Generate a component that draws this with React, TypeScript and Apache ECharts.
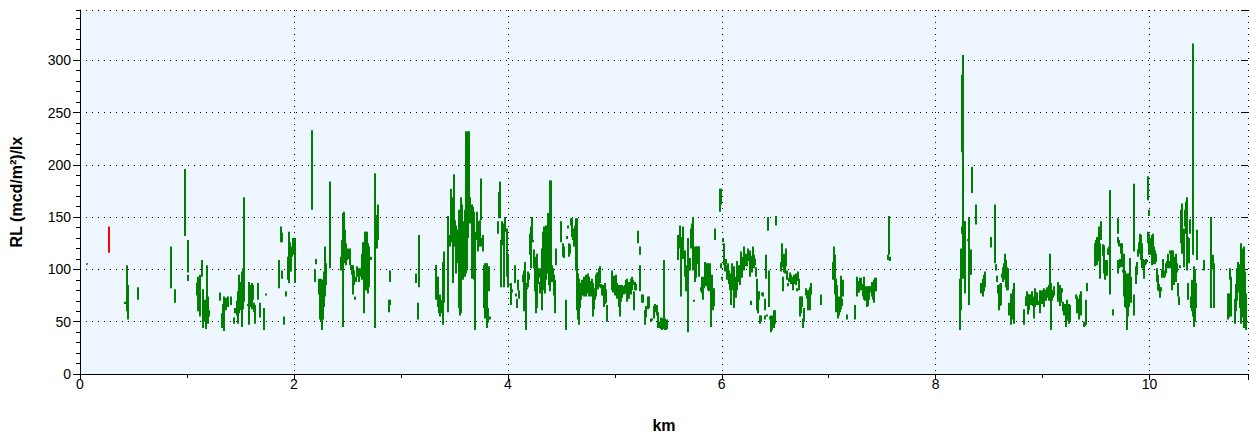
import React, { useEffect, useRef } from "react";
import * as echarts from "echarts";

// ---- axis settings / tick labels ----
const X_MAX = 10.92;
const Y_MAX = 348;
const xTickStep = 2;
const yTickStep = 50;

// ---- red marker segment [km, low, high] ----
const redSegments: number[][] = [[0.27, 116, 141]];

// ---- green segments [km, low, high], grouped by stretch ----
const stretchA: number[][] = [
  [0.07, 105, 106], [0.42, 67, 69], [0.44, 60, 104], [0.45, 52, 85], [0.545, 71, 83],
  [0.848, 82, 122], [0.885, 68, 81], [0.978, 132, 196], [1.006, 97, 128], [1.008, 89, 95],
];
const stretchB: number[][] = [
  [1.09, 75, 87], [1.105, 60, 93], [1.12, 79, 95], [1.125, 55, 79], [1.137, 93, 109],
  [1.15, 44, 81], [1.165, 50, 71], [1.175, 43, 71], [1.184, 56, 104], [1.194, 48, 74],
  [1.203, 55, 61], [1.305, 70, 78], [1.324, 44, 58], [1.336, 45, 67], [1.345, 41, 74],
  [1.364, 61, 73], [1.38, 64, 74], [1.408, 66, 74], [1.436, 48, 54], [1.445, 58, 63],
  [1.455, 58, 63], [1.464, 56, 70], [1.473, 48, 79], [1.483, 58, 95], [1.492, 61, 88],
  [1.51, 45, 98], [1.52, 62, 101], [1.537, 69, 169], [1.567, 65, 67], [1.576, 47, 88],
  [1.585, 64, 85], [1.595, 66, 84], [1.604, 62, 87], [1.613, 71, 85], [1.63, 59, 68],
  [1.64, 48, 66], [1.66, 71, 87], [1.68, 54, 68], [1.72, 42, 63], [1.735, 75, 77],
];
const stretchC: number[][] = [
  [1.857, 82, 109], [1.883, 126, 141], [1.89, 126, 135], [1.885, 91, 99], [1.907, 47, 55],
  [1.93, 74, 79], [1.94, 90, 112], [1.95, 87, 136], [1.96, 98, 126], [1.97, 98, 120],
  [1.978, 112, 122], [1.988, 115, 130], [1.997, 114, 128], [2.006, 87, 130], [2.168, 157, 233],
  [2.2, 88, 100], [2.21, 105, 110], [2.23, 76, 91], [2.24, 52, 90], [2.25, 50, 91],
  [2.26, 42, 90], [2.268, 52, 83], [2.277, 64, 98], [2.287, 74, 122], [2.296, 85, 106],
  [2.333, 101, 184], [2.436, 99, 112], [2.445, 101, 128], [2.455, 45, 154], [2.464, 112, 155],
  [2.473, 106, 138], [2.483, 104, 125], [2.492, 109, 117], [2.5, 110, 117], [2.51, 110, 120],
  [2.52, 104, 120], [2.53, 100, 104], [2.54, 95, 104], [2.548, 93, 104], [2.557, 76, 96],
  [2.566, 85, 99], [2.575, 71, 74], [2.585, 88, 93], [2.594, 93, 103], [2.604, 88, 101],
  [2.614, 93, 101], [2.623, 95, 100], [2.632, 90, 115], [2.642, 112, 126], [2.651, 58, 117],
  [2.66, 83, 136], [2.67, 80, 136], [2.68, 80, 136], [2.69, 77, 125], [2.7, 83, 122],
  [2.716, 109, 112],
];
const stretchD: number[][] = [
  [2.754, 44, 192], [2.78, 120, 152], [2.79, 128, 162], [2.894, 88, 99], [2.89, 59, 71],
  [2.9, 66, 71], [3.137, 87, 96], [3.156, 52, 68], [3.166, 83, 133], [3.324, 80, 104],
  [3.333, 71, 104], [3.343, 64, 93], [3.352, 63, 74], [3.36, 58, 66], [3.37, 55, 76],
  [3.38, 58, 71], [3.39, 47, 107], [3.399, 68, 117], [3.436, 59, 151], [3.445, 125, 138],
  [3.455, 122, 133], [3.464, 126, 177], [3.473, 136, 176], [3.483, 87, 169], [3.492, 144, 191],
  [3.5, 128, 162], [3.51, 122, 147], [3.52, 96, 142], [3.53, 106, 138], [3.54, 103, 155],
  [3.548, 63, 157], [3.557, 56, 136], [3.566, 58, 169], [3.576, 109, 162], [3.585, 90, 146],
  [3.595, 93, 157], [3.605, 96, 232], [3.614, 99, 171], [3.623, 140, 157], [3.628, 130, 232],
  [3.636, 149, 232], [3.645, 144, 169], [3.654, 150, 155], [3.664, 91, 162], [3.673, 95, 160],
  [3.682, 90, 155], [3.69, 42, 136], [3.7, 130, 133], [3.71, 128, 155], [3.72, 117, 146],
  [3.729, 128, 145], [3.738, 122, 147], [3.748, 147, 187], [3.757, 122, 130], [3.766, 117, 133],
  [3.776, 63, 104], [3.785, 53, 106], [3.794, 63, 106], [3.804, 44, 106], [3.813, 49, 63],
  [3.822, 79, 103], [3.832, 52, 55],
];
const stretchE: number[][] = [
  [3.906, 134, 146], [3.915, 149, 174], [3.925, 150, 184], [3.94, 83, 128], [3.95, 123, 146],
  [3.96, 83, 144], [3.97, 142, 147], [3.978, 136, 150], [3.988, 93, 139], [3.997, 83, 115],
  [4.006, 83, 86], [4.02, 85, 86], [4.03, 66, 87], [4.04, 78, 81], [4.068, 87, 104],
  [4.077, 74, 77], [4.087, 63, 72], [4.096, 80, 90], [4.106, 72, 80], [4.143, 88, 95],
  [4.152, 60, 99], [4.162, 80, 107], [4.171, 42, 87], [4.18, 81, 83], [4.19, 83, 98],
  [4.2, 90, 96], [4.208, 114, 134], [4.218, 101, 141], [4.227, 126, 150], [4.236, 126, 128],
  [4.246, 101, 119], [4.255, 79, 112], [4.264, 58, 107], [4.274, 63, 115], [4.283, 86, 101],
  [4.292, 92, 101], [4.302, 77, 88], [4.311, 88, 101], [4.32, 61, 120], [4.33, 80, 136],
  [4.34, 101, 141], [4.348, 77, 134], [4.358, 90, 142], [4.367, 118, 133], [4.376, 96, 154],
  [4.386, 85, 101], [4.395, 79, 185], [4.404, 88, 185], [4.414, 88, 104], [4.423, 88, 101],
  [4.432, 75, 95], [4.442, 58, 90], [4.451, 104, 120], [4.5, 126, 146], [4.518, 112, 125],
  [4.528, 111, 122], [4.54, 42, 71],
];
const stretchF: number[][] = [
  [4.551, 129, 132], [4.56, 139, 142], [4.57, 112, 125], [4.58, 115, 124], [4.589, 142, 149],
  [4.598, 131, 149], [4.61, 128, 131], [4.62, 122, 139], [4.629, 122, 142], [4.638, 99, 149],
  [4.648, 61, 149], [4.657, 52, 96], [4.666, 47, 91], [4.676, 63, 77], [4.685, 71, 87],
  [4.694, 75, 90], [4.704, 78, 88], [4.713, 74, 93], [4.722, 83, 89], [4.732, 74, 95],
  [4.741, 77, 93], [4.75, 86, 96], [4.76, 74, 93], [4.769, 82, 89], [4.778, 74, 87],
  [4.788, 75, 91], [4.797, 55, 87], [4.806, 62, 82], [4.816, 71, 77], [4.825, 74, 95],
  [4.835, 81, 97], [4.844, 81, 97], [4.853, 83, 101], [4.863, 87, 103], [4.872, 82, 86],
  [4.882, 75, 85], [4.89, 75, 85], [4.9, 64, 85], [4.91, 67, 87], [4.919, 68, 81],
  [4.928, 50, 66], [4.975, 80, 99], [4.985, 78, 93], [4.994, 82, 94], [5.003, 75, 92],
  [5.012, 82, 95], [5.022, 72, 87], [5.03, 82, 85], [5.04, 64, 83], [5.05, 55, 85],
  [5.06, 69, 85], [5.07, 73, 85], [5.087, 76, 84], [5.096, 77, 85], [5.106, 80, 90],
  [5.115, 69, 91], [5.124, 74, 88], [5.134, 72, 88], [5.143, 78, 85], [5.152, 76, 91],
  [5.162, 80, 93], [5.17, 85, 90], [5.18, 61, 79], [5.19, 80, 88], [5.199, 80, 86],
  [5.22, 125, 137], [5.24, 114, 122], [5.24, 79, 104], [5.25, 68, 76], [5.26, 68, 76],
  [5.268, 69, 74], [5.278, 47, 61], [5.287, 49, 61], [5.296, 54, 65], [5.306, 62, 68],
  [5.315, 63, 74], [5.324, 63, 74], [5.343, 50, 53], [5.352, 51, 53], [5.362, 60, 63],
  [5.371, 53, 65], [5.38, 59, 67], [5.39, 56, 66], [5.4, 50, 59], [5.408, 44, 58],
  [5.418, 44, 50], [5.436, 43, 54],
];
const stretchG: number[][] = [
  [5.445, 42, 53], [5.455, 43, 53], [5.461, 48, 109], [5.47, 42, 53], [5.48, 42, 50],
  [5.49, 43, 52], [5.59, 109, 133], [5.6, 120, 129], [5.61, 123, 142], [5.62, 74, 131],
  [5.63, 110, 127], [5.638, 118, 141], [5.648, 110, 118], [5.657, 93, 118], [5.666, 79, 104],
  [5.676, 86, 95], [5.685, 40, 130], [5.694, 99, 111], [5.703, 99, 111], [5.713, 120, 139],
  [5.722, 123, 144], [5.732, 99, 150], [5.74, 104, 122], [5.742, 69, 71], [5.75, 88, 115],
  [5.76, 92, 122], [5.77, 106, 122], [5.78, 105, 122], [5.788, 93, 122], [5.807, 79, 83],
  [5.816, 77, 93], [5.826, 71, 88], [5.835, 82, 93], [5.844, 90, 107], [5.854, 84, 104],
  [5.863, 88, 106], [5.872, 80, 106], [5.882, 79, 104], [5.89, 80, 106], [5.9, 45, 95],
  [5.91, 64, 95], [5.919, 61, 82], [5.928, 65, 82], [5.938, 128, 139], [5.98, 155, 177],
  [5.99, 162, 177], [5.992, 101, 106], [6.006, 90, 93], [6.016, 126, 130], [6.025, 104, 125],
  [6.034, 98, 108], [6.044, 105, 110], [6.053, 90, 104], [6.06, 94, 106], [6.07, 86, 99],
  [6.08, 80, 96], [6.09, 66, 90], [6.1, 83, 106], [6.109, 80, 99], [6.118, 63, 103],
  [6.128, 83, 93], [6.137, 73, 92], [6.146, 80, 108], [6.156, 88, 100], [6.165, 91, 104],
  [6.175, 85, 104], [6.184, 96, 117], [6.193, 92, 112], [6.2, 100, 104], [6.21, 99, 122],
  [6.22, 108, 115], [6.23, 103, 115], [6.24, 103, 109], [6.25, 108, 120], [6.26, 93, 118],
  [6.27, 104, 113], [6.278, 66, 70], [6.286, 97, 110], [6.296, 105, 122], [6.305, 101, 114],
  [6.315, 104, 110], [6.324, 93, 102], [6.327, 61, 91], [6.336, 61, 69], [6.343, 58, 72],
  [6.352, 71, 79], [6.362, 48, 56], [6.371, 50, 56], [6.38, 75, 78], [6.39, 74, 78],
  [6.4, 52, 56], [6.408, 61, 72], [6.418, 91, 114], [6.419, 55, 57], [6.436, 137, 150],
  [6.446, 64, 99], [6.455, 52, 55], [6.464, 40, 56], [6.473, 42, 55], [6.483, 44, 56],
  [6.492, 44, 61], [6.5, 48, 61], [6.51, 142, 151],
];
const stretchH: number[][] = [
  [6.558, 98, 107], [6.567, 102, 125], [6.576, 79, 93], [6.586, 97, 115], [6.595, 96, 110],
  [6.604, 103, 120], [6.614, 90, 99], [6.623, 84, 87], [6.632, 88, 92], [6.642, 89, 97],
  [6.65, 86, 95], [6.66, 90, 93], [6.67, 80, 91], [6.68, 86, 95], [6.69, 86, 94],
  [6.698, 85, 96], [6.708, 79, 82], [6.717, 89, 98], [6.726, 80, 91], [6.736, 55, 74],
  [6.745, 58, 74], [6.754, 64, 74], [6.764, 44, 53], [6.773, 50, 63], [6.79, 75, 82],
  [6.8, 72, 75], [6.808, 61, 80], [6.818, 71, 80], [6.828, 61, 83], [6.837, 76, 87],
  [6.93, 66, 76], [7.043, 90, 107], [7.053, 91, 122], [7.062, 76, 114], [7.071, 59, 91],
  [7.08, 62, 85], [7.09, 53, 74], [7.1, 56, 72], [7.109, 59, 74], [7.118, 62, 94],
  [7.128, 65, 72], [7.137, 74, 90], [7.175, 52, 57], [7.25, 52, 66], [7.268, 74, 93],
  [7.277, 78, 89], [7.287, 78, 86], [7.296, 83, 92], [7.305, 80, 92], [7.315, 82, 86],
  [7.324, 74, 84], [7.334, 71, 93], [7.343, 70, 82], [7.352, 71, 84], [7.362, 64, 80],
  [7.371, 65, 84], [7.38, 71, 84], [7.39, 78, 84], [7.4, 74, 87], [7.408, 77, 88],
  [7.418, 71, 88], [7.427, 68, 90], [7.436, 79, 92], [7.446, 79, 92], [7.558, 109, 114],
  [7.567, 114, 151], [7.577, 108, 112],
];
const stretchI: number[][] = [
  [8.224, 42, 91], [8.233, 61, 120], [8.243, 134, 141], [8.25, 212, 286], [8.258, 91, 305],
  [8.268, 106, 146], [8.277, 77, 146], [8.306, 127, 129], [8.315, 66, 150], [8.324, 95, 111],
  [8.333, 95, 119], [8.343, 173, 198], [8.38, 143, 162], [8.427, 77, 87], [8.445, 74, 91],
  [8.455, 79, 95], [8.464, 83, 98], [8.52, 121, 131], [8.558, 106, 162], [8.567, 99, 105],
  [8.576, 88, 94], [8.586, 77, 85], [8.595, 61, 83], [8.605, 65, 86], [8.614, 66, 87],
  [8.623, 92, 96], [8.632, 88, 102], [8.642, 92, 106], [8.65, 90, 115], [8.66, 83, 109],
  [8.67, 80, 102], [8.68, 80, 101], [8.69, 56, 68], [8.7, 47, 77], [8.708, 52, 72],
  [8.717, 54, 73], [8.726, 52, 81], [8.736, 48, 87], [8.83, 47, 62], [8.84, 65, 74],
  [8.857, 71, 79], [8.866, 57, 76], [8.876, 61, 76], [8.885, 69, 76], [8.894, 66, 75],
  [8.904, 70, 79], [8.913, 65, 74], [8.922, 53, 72], [8.932, 64, 82], [8.94, 67, 78],
  [8.95, 66, 78], [8.96, 66, 70],
];
const stretchJ: number[][] = [
  [8.976, 58, 80], [8.99, 67, 80], [9.0, 71, 77], [9.01, 64, 82], [9.02, 71, 80],
  [9.028, 70, 80], [9.037, 78, 83], [9.047, 73, 80], [9.056, 70, 85], [9.065, 71, 115],
  [9.075, 42, 87], [9.084, 70, 80], [9.093, 73, 80], [9.103, 75, 84], [9.14, 69, 88],
  [9.15, 71, 85], [9.159, 65, 85], [9.168, 68, 82], [9.178, 78, 82], [9.187, 60, 69],
  [9.196, 56, 67], [9.206, 60, 67], [9.215, 45, 63], [9.224, 51, 71], [9.234, 57, 67],
  [9.243, 48, 67], [9.252, 51, 66], [9.31, 72, 76], [9.32, 58, 74], [9.336, 52, 72],
  [9.345, 61, 76], [9.355, 56, 79], [9.39, 45, 50], [9.4, 46, 50], [9.408, 47, 71],
  [9.418, 79, 87], [9.49, 103, 125], [9.5, 106, 128], [9.51, 104, 131], [9.52, 118, 128],
  [9.53, 108, 141], [9.54, 91, 125], [9.55, 128, 146], [9.56, 113, 124], [9.57, 104, 123],
  [9.577, 96, 112], [9.586, 90, 104], [9.596, 96, 109], [9.605, 94, 109], [9.614, 114, 120],
  [9.624, 114, 122], [9.633, 76, 176], [9.66, 56, 62], [9.7, 134, 149], [9.708, 125, 131],
  [9.717, 122, 128], [9.701, 96, 107], [9.709, 99, 109], [9.718, 101, 107], [9.726, 102, 110],
  [9.735, 115, 125], [9.745, 102, 125], [9.754, 97, 100], [9.764, 74, 115], [9.773, 64, 99],
  [9.782, 63, 96], [9.792, 42, 95], [9.8, 55, 96], [9.81, 64, 96], [9.82, 71, 111],
  [9.83, 68, 93], [9.854, 117, 182], [9.855, 56, 76], [9.875, 86, 103], [9.885, 95, 107],
  [9.894, 112, 119], [9.904, 115, 126], [9.912, 118, 134], [9.92, 109, 133], [9.925, 101, 125],
  [9.935, 105, 110], [9.944, 91, 109], [9.953, 104, 109], [9.962, 105, 110], [9.972, 107, 109],
  [9.988, 166, 189], [9.997, 151, 157], [9.989, 125, 136], [9.998, 114, 134],
];
const stretchK: number[][] = [
  [10.006, 125, 130], [10.016, 114, 130], [10.025, 104, 133], [10.034, 105, 134], [10.044, 109, 122],
  [10.053, 105, 118], [10.062, 107, 115], [10.072, 88, 101], [10.081, 80, 95], [10.09, 79, 86],
  [10.1, 73, 83], [10.109, 79, 83], [10.118, 92, 100], [10.128, 95, 110], [10.137, 92, 98],
  [10.146, 93, 99], [10.156, 96, 106], [10.165, 101, 108], [10.175, 106, 115], [10.184, 101, 108],
  [10.193, 115, 118], [10.203, 101, 118], [10.212, 80, 118], [10.222, 88, 118], [10.231, 85, 107],
  [10.24, 93, 112], [10.25, 88, 115], [10.26, 97, 106], [10.268, 74, 87], [10.278, 66, 74],
  [10.287, 101, 104], [10.296, 125, 157], [10.305, 115, 163], [10.315, 125, 138], [10.324, 102, 139],
  [10.333, 141, 157], [10.343, 134, 165], [10.352, 99, 169], [10.362, 71, 87], [10.363, 118, 131],
  [10.371, 106, 130], [10.38, 134, 148], [10.39, 63, 74], [10.398, 60, 90], [10.406, 114, 316],
  [10.407, 55, 77], [10.415, 45, 103], [10.424, 50, 100], [10.434, 63, 87], [10.443, 109, 138],
  [10.51, 99, 109], [10.576, 63, 150], [10.586, 100, 110], [10.596, 103, 114], [10.605, 63, 106],
  [10.735, 52, 77], [10.745, 54, 77], [10.754, 90, 101], [10.763, 55, 93], [10.8, 48, 72],
  [10.81, 60, 86], [10.82, 70, 101], [10.83, 83, 107], [10.84, 78, 105], [10.849, 63, 95],
  [10.858, 48, 125], [10.868, 78, 120], [10.877, 54, 88], [10.886, 44, 122], [10.895, 55, 98],
  [10.905, 42, 77],
];

const greenSegments = [
  ...stretchA, ...stretchB, ...stretchC, ...stretchD, ...stretchE, ...stretchF,
  ...stretchG, ...stretchH, ...stretchI, ...stretchJ, ...stretchK,
];

const FONT = "'Liberation Sans', Arial, sans-serif";

function segRenderer(color: string) {
  return (params: any, api: any) => {
    const x = api.value(0);
    const lo = api.value(1);
    const hi = api.value(2);
    const pTop = api.coord([x, hi]);
    const pBot = api.coord([x, lo]);
    const h = Math.max(1.5, pBot[1] - pTop[1]);
    return {
      type: "rect",
      shape: { x: Math.round(pTop[0]) - 1, y: pTop[1], width: 2, height: h },
      style: { fill: color },
    };
  };
}

export default function App() {
  const ref = useRef<HTMLDivElement>(null);
  useEffect(() => {
    if (!ref.current) return;
    const chart = echarts.init(ref.current, undefined, { renderer: "svg" });
    const dotted = { show: true, lineStyle: { color: "#000", type: [1, 5] as any, width: 1 } };
    chart.setOption({
      animation: false,
      backgroundColor: "#ffffff",
      grid: {
        left: 80, right: 12, top: 10, bottom: 68,
        show: true, backgroundColor: "#eef6ff", borderWidth: 0,
      },
      xAxis: [
        {
          type: "value", min: 0, max: X_MAX, interval: xTickStep, position: "bottom",
          axisLine: { show: true, onZero: false, lineStyle: { color: "#000", width: 1 } },
          axisTick: { show: true, length: 6, lineStyle: { color: "#000" } },
          minorTick: { show: true, splitNumber: 2, length: 4, lineStyle: { color: "#000" } },
          axisLabel: { color: "#000", fontSize: 14, fontFamily: FONT, margin: 3, showMaxLabel: false },
          splitLine: dotted,
          name: "km", nameLocation: "middle", nameGap: 43,
          nameTextStyle: { color: "#000", fontSize: 16, fontWeight: "bold", fontFamily: FONT },
        },
        {
          type: "value", min: 0, max: X_MAX, interval: xTickStep, position: "top",
          axisLine: { show: false },
          axisTick: { show: true, inside: true, length: 6, lineStyle: { color: "#000" } },
          minorTick: { show: true, splitNumber: 2, length: 4, lineStyle: { color: "#000" } },
          axisLabel: { show: false }, splitLine: { show: false },
        },
      ],
      yAxis: [
        {
          type: "value", min: 0, max: Y_MAX, interval: yTickStep, position: "left",
          axisLine: { show: true, onZero: false, lineStyle: { color: "#000", width: 1 } },
          axisTick: { show: true, length: 7, lineStyle: { color: "#000" } },
          minorTick: { show: false },
          axisLabel: { color: "#000", fontSize: 14, fontFamily: FONT, margin: 9, showMaxLabel: false },
          splitLine: dotted,
          name: "RL (mcd/m²)/lx", nameLocation: "middle", nameGap: 56,
          nameTextStyle: { color: "#000", fontSize: 16, fontWeight: "bold", fontFamily: FONT },
        },
        {
          type: "value", min: 0, max: Y_MAX, interval: 10, position: "left",
          axisLine: { show: false },
          axisTick: { show: true, length: 4, lineStyle: { color: "#000" } },
          axisLabel: { show: false }, splitLine: { show: false },
        },
        {
          type: "value", min: 0, max: Y_MAX, interval: 10, position: "right",
          axisLine: { show: false },
          axisTick: { show: true, inside: true, length: 4, lineStyle: { color: "#000" } },
          axisLabel: { show: false }, splitLine: { show: false },
        },
        {
          type: "value", min: 0, max: Y_MAX, interval: yTickStep, position: "right",
          axisLine: { show: false },
          axisTick: { show: true, inside: true, length: 7, lineStyle: { color: "#000" } },
          axisLabel: { show: false }, splitLine: { show: false },
        },
      ],
      series: [
        {
          type: "custom", name: "RL", xAxisIndex: 0, yAxisIndex: 0,
          renderItem: segRenderer("#008000"),
          encode: { x: 0, y: [1, 2] },
          data: greenSegments,
          silent: true,
        },
        {
          type: "custom", name: "marker", xAxisIndex: 0, yAxisIndex: 0,
          renderItem: segRenderer("#ff0000"),
          encode: { x: 0, y: [1, 2] },
          data: redSegments,
          silent: true,
        },
      ],
    });
    return () => chart.dispose();
  }, []);
  return (
    <div
      ref={ref}
      style={{ position: "fixed", left: 0, top: 0, width: 1260, height: 442 }}
    />
  );
}
